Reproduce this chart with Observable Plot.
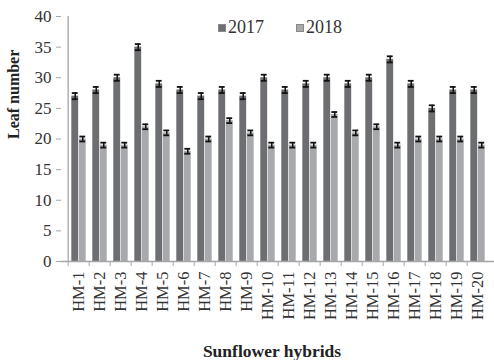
<!DOCTYPE html>
<html>
<head>
<meta charset="utf-8">
<script src="https://cdn.jsdelivr.net/npm/d3@7"></script>
<script src="https://cdn.jsdelivr.net/npm/@observablehq/plot@0.6"></script>
<style>
  html, body { margin: 0; padding: 0; background: #fff; }
  #chart { position: relative; width: 494px; height: 360px; overflow: hidden; }
  #legend {
    position: absolute; top: 17px; left: 218px;
    font-family: "Liberation Serif", "Times New Roman", serif;
    font-size: 18px; color: #333; display: flex; gap: 32px;
  }
  #legend span.item { display: flex; align-items: center; }
  #legend i { display: inline-block; width: 8px; height: 8px; margin-right: 2px; border: 1px solid #888; box-sizing: border-box; }
</style>
</head>
<body>
<div id="chart"></div>
<script>
// Leaf number of sunflower hybrids in two seasons
const hybrids = ["HM-1","HM-2","HM-3","HM-4","HM-5","HM-6","HM-7","HM-8","HM-9","HM-10",
                 "HM-11","HM-12","HM-13","HM-14","HM-15","HM-16","HM-17","HM-18","HM-19","HM-20"];
const years = ["2017", "2018"];
const leaves2017 = [27, 28, 30, 35, 29, 28, 27, 28, 27, 30, 28, 29, 30, 29, 30, 33, 29, 25, 28, 28];
const leaves2018 = [20, 19, 19, 22, 21, 18, 20, 23, 21, 19, 19, 19, 24, 21, 22, 19, 20, 20, 20, 19];
const err2017 = [0.5,0.5,0.5,0.5,0.5,0.5,0.5,0.5,0.5,0.5,0.5,0.5,0.5,0.5,0.5,0.5,0.5,0.5,0.5,0.5];
const err2018 = [0.4,0.4,0.4,0.4,0.4,0.4,0.4,0.4,0.4,0.4,0.4,0.4,0.4,0.4,0.4,0.4,0.4,0.4,0.4,0.4];
const yTicks = [0, 5, 10, 15, 20, 25, 30, 35, 40];

const colors = {"2017": "#6d6e71", "2018": "#a7a9ac"};
const serif = "Liberation Serif, Times New Roman, serif";
const axisGrey = "#a6a6a6";

const rows = (vals, errs, year) => hybrids.map((h, i) => ({hybrid: h, year, value: vals[i], err: errs[i]}));
const d17 = rows(leaves2017, err2017, "2017");
const d18 = rows(leaves2018, err2018, "2018");

const width = 494, height = 360;
const mL = 61, mR = 0;
const step = (width - mL - mR) / hybrids.length;
const outer = 3.3, barW = (step - 2 * outer) / 2;

function series(data, left, right, shift) {
  return [
    Plot.barY(data, {x: "hybrid", y: "value", fill: d => colors[d.year], insetLeft: left, insetRight: right}),
    Plot.ruleX(data, {x: "hybrid", y1: d => d.value - d.err, y2: d => d.value + d.err, dx: shift, stroke: "#111", strokeWidth: 1.5}),
    Plot.tickY(data, {x: "hybrid", y: d => d.value + d.err, insetLeft: left + 0.5, insetRight: right + 0.5, stroke: "#111", strokeWidth: 1.8}),
    Plot.tickY(data, {x: "hybrid", y: d => d.value - d.err, insetLeft: left + 0.5, insetRight: right + 0.5, stroke: "#111", strokeWidth: 1.8})
  ];
}

const chart = Plot.plot({
  width, height,
  marginLeft: mL, marginRight: mR, marginTop: 16, marginBottom: 99,
  style: {fontFamily: serif, color: "#333", background: "#fff"},
  x: {type: "band", domain: hybrids, padding: 0, axis: null},
  y: {domain: [0, 40], axis: null},
  marks: [
    ...series(d17, outer, outer + barW, -barW / 2),
    ...series(d18, outer + barW, outer, barW / 2),
    // axis lines
    Plot.ruleY([0], {stroke: axisGrey, strokeWidth: 1.3}),
    Plot.ruleX([hybrids[0]], {dx: -step / 2, stroke: axisGrey, strokeWidth: 1.3}),
    Plot.axisY({ticks: yTicks, tickSize: 5, tickPadding: 5, stroke: axisGrey, fontSize: 17, label: null}),
    // category boundary ticks
    Plot.axisX({tickSize: 5, dx: -step / 2, tickFormat: () => "", stroke: axisGrey, label: null}),
    Plot.axisX({tickSize: 0, tickPadding: 10, tickRotate: -90, fontSize: 16.5, label: null}),
    Plot.text(["Leaf number"], {frameAnchor: "left", dx: -48, rotate: -90, fontSize: 16, fontWeight: "bold", fill: "#222"}),
    Plot.text(["Sunflower hybrids"], {frameAnchor: "bottom", dx: -6, dy: 95, fontSize: 17.5, fontWeight: "bold", fill: "#222"})
  ]
});

const root = document.getElementById("chart");
root.appendChild(chart);
const legend = document.createElement("div");
legend.id = "legend";
for (const y of years) {
  const item = document.createElement("span");
  item.className = "item";
  const sw = document.createElement("i");
  sw.style.background = colors[y];
  item.appendChild(sw);
  item.appendChild(document.createTextNode(y));
  legend.appendChild(item);
}
root.appendChild(legend);
</script>
</body>
</html>
